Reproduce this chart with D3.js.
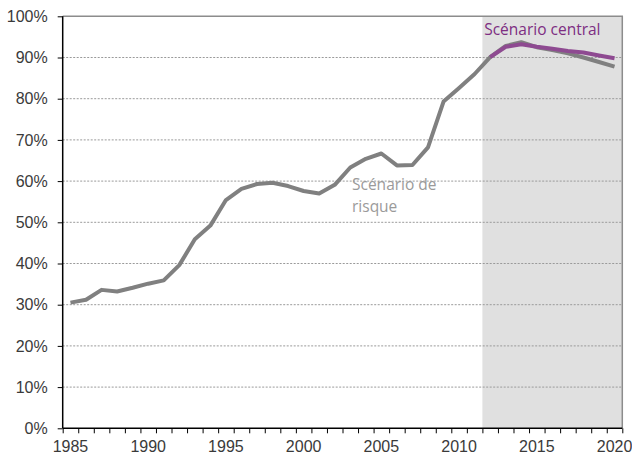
<!DOCTYPE html>
<html>
<head>
<meta charset="utf-8">
<script src="https://cdn.jsdelivr.net/npm/d3@7"></script>
<style>
  body { margin: 0; background: #fff; }
  svg { display: block; font-family: "Open Sans", sans-serif; }
  .eje text { fill: #3a3a3a; font-size: 16px; }
  .eje path, .eje line { stroke: #000; }
</style>
</head>
<body>
<div id="graf"></div>
<script>
// data
annees = d3.range(1985, 2021)
risque = [30.5, 31.2, 33.6, 33.2, 34.1, 35.1, 35.9, 39.6, 45.9, 49.2, 55.4, 58.1,
          59.3, 59.6, 58.8, 57.6, 57.0, 59.1, 63.3, 65.4, 66.7, 63.8, 63.9, 68.2,
          79.3, 82.6, 86.0, 90.1, 92.8, 93.7, 92.5, 91.8, 91.0, 90.0, 88.9, 87.8]
anneesCentral = d3.range(2012, 2021)
central = [90.1, 92.6, 93.2, 92.6, 92.1, 91.6, 91.2, 90.5, 89.8]
yTicks = d3.range(0, 101, 10)
xLabels = [1985, 1990, 1995, 2000, 2005, 2010, 2015, 2020]
debutScenario = 2012

ancho_total = 632
alto_total = 463
margins = { top: 16.3, left: 62.7, right: 9.7, bottom: 34.7 }
ancho = ancho_total - margins.left - margins.right
alto = alto_total - margins.top - margins.bottom

svg = d3.select('#graf').append('svg')
        .attr('width', ancho_total)
        .attr('height', alto_total)

g = svg.append('g')
       .attr('transform', `translate(${margins.left}, ${margins.top})`)

x = d3.scaleBand()
      .domain(annees)
      .range([0, ancho])
      .padding(0)
// scale for the tick marks between years
xBord = d3.scaleLinear()
          .domain([1985, 2021])
          .range([0, ancho])
y = d3.scaleLinear()
      .domain([0, 100])
      .range([alto, 0])

cx = d => x(d) + x.bandwidth() / 2

// shaded scenario zone
g.append('rect')
  .attr('x', xBord(debutScenario))
  .attr('y', 0)
  .attr('width', ancho - xBord(debutScenario))
  .attr('height', alto)
  .style('fill', '#e0e0e0')

// grid
g.selectAll('.grille')
  .data(yTicks.filter(d => d > 0 && d < 100))
  .enter().append('line')
    .attr('class', 'grille')
    .attr('x1', 0)
    .attr('x2', ancho)
    .attr('y1', d => y(d))
    .attr('y2', d => y(d))
    .style('stroke', '#9a9a9a')
    .style('stroke-width', 1)
    .style('stroke-dasharray', '2,1.5')

// top and right border
g.append('path')
  .attr('d', `M0,${y(100)}H${ancho}V${alto}`)
  .style('fill', 'none')
  .style('stroke', '#8c8c8c')
  .style('stroke-width', 1.5)

ligne = d3.line()
          .x(d => cx(d[0]))
          .y(d => y(d[1]))

g.append('path')
  .datum(d3.zip(annees, risque))
  .attr('d', ligne)
  .style('fill', 'none')
  .style('stroke', '#808080')
  .style('stroke-width', 4)
  .style('stroke-linejoin', 'round')

g.append('path')
  .datum(d3.zip(anneesCentral, central))
  .attr('d', ligne)
  .style('fill', 'none')
  .style('stroke', '#8e4a91')
  .style('stroke-width', 4)
  .style('stroke-linejoin', 'round')

// axes
yAxisCall = d3.axisLeft(y)
              .tickValues(yTicks)
              .tickSize(5)
              .tickPadding(10)
              .tickFormat(d => d + '%')
g.append('g')
  .attr('class', 'eje')
  .call(yAxisCall)
  .call(s => s.select('.domain').attr('d', `M0,${y(100)}V${alto}`).style('stroke-width', 1.5))

g.append('g')
  .attr('class', 'eje')
  .attr('transform', `translate(0, ${alto})`)
  .call(d3.axisBottom(xBord).tickValues(d3.range(1985, 2022)).tickSize(5).tickFormat(''))
  .call(s => s.select('.domain').attr('d', `M0,0H${ancho}`).style('stroke-width', 1.5))

g.append('g')
  .attr('class', 'eje')
  .attr('transform', `translate(0, ${alto})`)
  .call(d3.axisBottom(x).tickValues(xLabels).tickSize(0).tickPadding(12))
  .call(s => s.select('.domain').remove())

// annotations
g.append('text')
  .attr('x', cx(2012) - 6)
  .attr('y', 35 - margins.top)
  .style('fill', '#7d2d82')
  .style('font-size', '15.5px')
  .text('Scénario central')

anno = g.append('text')
        .style('fill', '#9a9a9a')
        .style('font-size', '15.5px')
anno.append('tspan')
    .attr('x', 352 - margins.left)
    .attr('y', 190 - margins.top)
    .text('Scénario de')
anno.append('tspan')
    .attr('x', 352 - margins.left)
    .attr('y', 212 - margins.top)
    .text('risque')
</script>
</body>
</html>
